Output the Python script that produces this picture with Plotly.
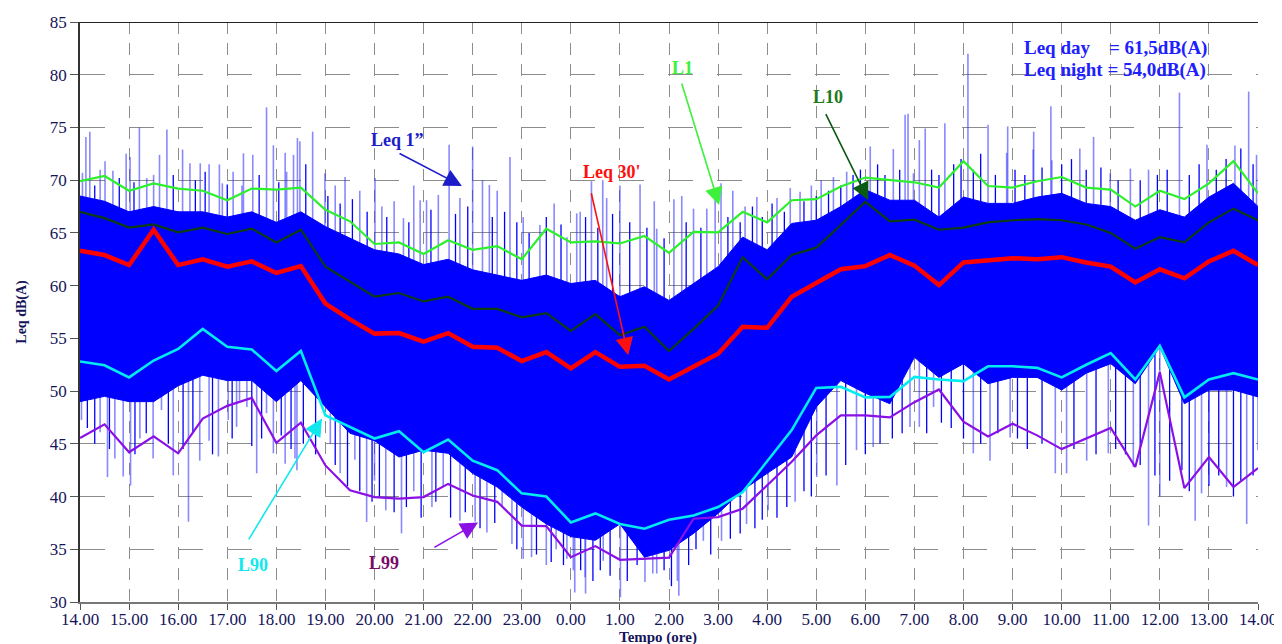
import plotly.graph_objects as go

# ---------------- data ----------------
# half-hour statistics, times as clock hours continuing past midnight (14 .. 38)
t_half = [14 + 0.5 * i for i in range(49)]

leq30 = [63.3, 62.9, 61.95, 65.3, 61.95, 62.5, 61.8, 62.3, 61.2, 61.85,
         58.3, 56.8, 55.45, 55.5, 54.7, 55.5, 54.2, 54.1, 52.85, 53.7, 52.15,
         53.7, 52.3, 52.4, 51.1, 52.3, 53.55, 56.1, 56.0, 58.95, 60.2, 61.55, 61.85, 62.9, 61.9,
         60.05, 62.2, 62.4, 62.6, 62.5, 62.7, 62.2, 61.8, 60.3, 61.55, 60.7, 62.3, 63.3, 61.95]

L1 = [69.9, 70.4, 69.0, 69.7, 69.2, 69.0, 68.1, 69.2, 69.1, 69.3,
      67.2, 66.1, 63.95, 64.1, 63.0, 64.3, 63.4, 63.75, 62.5, 65.4, 64.1,
      64.2, 64.0, 64.7, 63.1, 65.1, 65.05, 67.0, 66.0, 68.1, 68.2, 69.4, 70.25, 70.0, 69.8,
      69.3, 71.8, 69.45, 69.3, 69.9, 70.3, 69.3, 69.1, 67.5, 69.0, 68.2, 69.7, 71.8, 68.75]

L10 = [67.0, 66.4, 65.5, 65.8, 65.05, 65.5, 64.9, 65.4, 64.1, 65.3,
       61.8, 60.4, 58.95, 59.3, 58.5, 58.95, 57.8, 57.8, 57.0, 57.4, 55.7,
       57.3, 55.3, 56.1, 53.8, 55.9, 58.1, 62.7, 60.6, 62.9, 63.6, 65.75, 67.95, 66.1, 66.25,
       65.3, 65.5, 66.0, 66.2, 66.3, 66.2, 65.8, 65.0, 63.5, 64.6, 64.1, 66.0, 67.3, 66.2]

L90 = [52.8, 52.45, 51.3, 52.9, 54.0, 55.9, 54.2, 53.95, 51.9, 53.8,
       47.7, 46.6, 45.5, 46.2, 44.2, 45.4, 43.4, 42.5, 40.3, 40.0, 37.55,
       38.4, 37.4, 36.95, 37.8, 38.2, 39.0, 40.4, 43.3, 46.3, 50.3, 50.4, 49.4, 49.45, 51.35,
       51.1, 50.95, 52.35, 52.35, 52.2, 51.3, 52.5, 53.6, 51.1, 54.3, 49.4, 51.1, 51.7, 51.1]

L99 = [45.55, 46.85, 44.2, 45.7, 44.1, 47.4, 48.6, 49.35, 45.1, 47.0,
       42.95, 40.6, 39.95, 39.8, 39.95, 41.2, 40.1, 39.5, 37.25, 37.2, 34.25,
       35.3, 34.0, 34.1, 34.2, 37.9, 38.05, 38.85, 41.05, 43.3, 45.8, 47.7, 47.7, 47.5, 48.95,
       50.15, 47.1, 45.7, 46.9, 45.8, 44.5, 45.5, 46.5, 42.8, 51.8, 40.8, 43.75, 40.9, 42.7]

# Leq 1" : dense body of the trace (top / bottom of the solid blue mass)
leq1_top = [68.5, 68.0, 67.0, 67.5, 67.0, 67.0, 66.5, 67.0, 66.0, 67.0,
            65.6, 64.5, 63.4, 63.0, 62.0, 62.5, 61.5, 61.0, 60.5, 61.0, 60.2,
            60.5, 58.95, 59.9, 58.6, 60.2, 61.8, 64.6, 63.4, 65.9, 66.2, 67.5, 69.1, 68.1, 68.1,
            66.5, 68.4, 67.8, 67.8, 68.4, 68.75, 67.8, 67.5, 66.2, 67.2, 66.5, 68.4, 69.7, 67.5]
leq1_bottom = [49.0, 49.5, 49.0, 49.0, 50.5, 51.5, 51.0, 51.0, 49.0, 51.0,
               48.5, 46.0, 45.3, 43.75, 44.4, 44.1, 42.2, 40.9, 39.0, 37.4, 36.2,
               35.85, 37.4, 34.25, 34.9, 36.5, 38.4, 40.6, 42.2, 43.75, 48.5, 51.0, 49.8, 48.8, 53.2,
               51.3, 52.6, 50.7, 51.3, 51.3, 50.1, 51.7, 52.6, 50.7, 54.2, 48.8, 50.1, 50.1, 49.45]

# Leq 1" : tallest individual peaks (pale strokes)
peak_t = [14.05, 14.12, 14.2, 14.41, 14.51, 14.67, 14.94, 15.02, 15.21, 15.36, 15.5, 15.62, 15.77,
          16.09, 16.24, 16.45, 16.63, 16.84, 16.9, 17.12, 17.3, 17.33, 17.52, 17.8, 17.94, 18.18,
          18.21, 18.35, 18.43, 18.48, 18.74, 18.99, 19.2, 19.4, 19.7, 20.01, 20.15, 20.4, 20.59,
          20.8, 20.93, 21.06, 21.3, 21.52, 21.74, 22.0, 22.2, 22.34, 22.5, 22.76, 23.03, 23.37,
          23.66, 23.92, 24.12, 24.19, 24.42, 24.65, 24.73, 25.0, 25.41, 25.7, 25.75, 26.1, 26.26,
          26.5, 26.77, 26.94, 27.06, 27.3, 27.55, 27.79, 28.2, 28.47, 28.67, 28.9, 29.1, 29.35,
          29.62, 30.1, 30.57, 30.81, 30.87, 30.98, 31.1, 31.22, 31.62, 32.09, 32.5, 32.88, 32.9,
          33.42, 33.43, 33.78, 33.8, 34.37, 34.65, 34.99, 35.4, 35.77, 36.4, 36.96, 37.53, 37.81,
          37.97]
peak_v = [70.7, 74.1, 74.6, 71.0, 71.8, 70.9, 72.5, 72.2, 75.0, 70.2, 70.5, 72.4, 74.8,
          72.9, 71.6, 71.6, 71.5, 71.5, 69.7, 70.8, 69.5, 72.55, 72.4, 76.9, 73.3, 72.6,
          70.8, 72.4, 74.0, 73.7, 74.6, 70.65, 69.5, 70.3, 69.0, 70.2, 67.5, 68.0, 66.4,
          69.5, 68.1, 68.1, 68.6, 73.35, 68.3, 73.2, 70.0, 69.55, 69.0, 72.2, 66.5, 65.75,
          67.8, 64.6, 66.85, 67.0, 69.9, 70.0, 68.3, 69.5, 69.6, 68.0, 65.4, 68.2, 68.5,
          67.3, 67.3, 68.6, 69.7, 69.0, 67.5, 68.4, 68.3, 69.25, 68.9, 69.5, 70.0, 70.3,
          70.8, 73.2, 72.95, 76.2, 76.3, 70.65, 73.8, 74.9, 75.4, 82.0, 75.25, 72.6, 75.1,
          72.9, 74.6, 77.0, 71.9, 73.0, 74.1, 70.65, 71.1, 71.0, 78.3, 73.35, 73.3, 78.4,
          72.4]

# Leq 1" : deepest individual dips (pale strokes)
dip_t = [14.03, 14.41, 14.56, 14.71, 14.88, 15.03, 15.22, 15.49, 15.66, 15.9, 16.21, 16.44,
         16.63, 16.82, 17.02, 17.19, 17.25, 17.4, 17.6, 17.8, 17.94, 18.0, 18.18, 18.38, 18.42,
         19.1, 19.3, 19.6, 19.84, 20.0, 20.23, 20.55, 20.8, 21.17, 21.4, 21.74, 22.05, 22.29,
         22.6, 22.8, 23.03, 23.2, 23.5, 23.7, 23.92, 24.05, 24.08, 24.29, 24.3, 24.66, 25.01,
         25.51, 25.67, 25.75, 26.17, 26.2, 26.7, 27.07, 27.58, 28.02, 28.57, 29.01, 29.42,
         29.82, 30.16, 30.91, 31.1, 31.39, 32.2, 32.54, 32.95, 33.87, 34.1, 34.51, 34.95,
         35.46, 35.77, 36.0, 36.72, 36.85, 37.36, 37.77, 38.0]
dip_v = [47.25, 46.1, 41.85, 43.6, 41.9, 41.05, 45.5, 43.6, 48.2, 42.0, 37.6, 43.4,
         45.3, 43.8, 47.25, 46.6, 49.1, 48.5, 42.2, 47.9, 44.1, 49.1, 43.1, 43.6, 42.5,
         45.0, 42.2, 43.5, 37.6, 41.5, 38.7, 36.5, 40.5, 39.0, 41.0, 37.7, 37.6, 36.6,
         39.0, 35.5, 34.1, 34.25, 33.5, 35.0, 34.1, 33.0, 30.9, 32.35, 30.8, 33.9, 30.45,
         31.9, 32.7, 32.7, 32.0, 30.6, 35.8, 35.8, 37.4, 38.7, 39.5, 41.85, 41.05,
         44.4, 44.7, 46.6, 46.6, 48.5, 44.1, 43.4, 45.6, 42.2, 42.2, 43.4, 44.1,
         42.8, 37.25, 40.0, 37.7, 40.3, 40.9, 37.4, 44.4]

# Leq 1" : denser, shorter strokes (solid blue) around the body edges
peak2_t = [14.3, 14.8, 15.1, 15.9, 16.35, 16.55, 17.0, 17.65, 18.05, 18.6,
           19.05, 19.3, 19.55, 19.85, 20.25, 20.7, 21.15, 21.65, 21.9, 22.4, 22.65, 22.9, 23.15,
           23.5, 23.8, 24.3, 24.55, 24.85, 25.2, 25.55, 25.9, 26.35, 26.65, 27.2, 27.45, 27.7,
           27.9, 28.1, 28.35, 28.75, 29.0, 29.25, 29.5, 29.75, 29.9, 30.25, 30.4, 30.7,
           31.35, 31.5, 31.8, 31.95, 32.2, 32.35, 32.65, 33.05, 33.25, 33.6, 34.0, 34.2, 34.5,
           34.8, 35.15, 35.6, 35.95, 36.15, 36.6, 36.8, 37.15, 37.35, 37.65, 37.9]
peak2_v = [69.5, 70.2, 69.8, 70.5, 70.0, 70.8, 69.6, 70.5, 69.8, 71.5,
           68.5, 67.8, 68.2, 67.0, 66.5, 66.0, 67.2, 66.8, 67.5, 66.5, 67.0, 66.0, 65.0,
           66.5, 65.8, 66.5, 65.5, 66.8, 66.0, 65.5, 64.5, 66.0, 65.5, 66.5, 66.0, 67.5,
           66.5, 67.8, 67.0, 68.0, 68.5, 69.0, 69.5, 70.5, 71.0, 71.5, 70.5, 71.0,
           71.0, 70.5, 71.5, 72.0, 71.0, 72.5, 70.5, 71.0, 70.5, 71.2, 71.5, 72.0, 71.0,
           71.2, 70.0, 70.0, 70.5, 71.0, 70.5, 71.5, 71.0, 72.0, 73.0, 71.5]
dip2_t = [14.15, 14.3, 14.6, 15.12, 15.35, 15.8, 16.1, 16.3, 16.7, 17.1, 17.5, 17.7, 18.1,
          18.3, 18.55, 18.8, 19.2, 19.45, 19.7, 19.95, 20.1, 20.4, 20.65, 20.95, 21.25, 21.55,
          21.85, 22.15, 22.45, 22.9, 23.3, 23.6, 23.85, 24.2, 24.45, 24.6, 24.8, 25.15, 25.35,
          25.9, 26.05, 26.4, 26.55, 26.85, 27.25, 27.45, 27.75, 27.9, 28.2, 28.4, 28.75, 28.9,
          29.2, 29.6, 30.0, 30.3, 30.55, 30.75, 31.25, 31.55, 31.75, 32.0, 32.35, 32.7, 33.1,
          33.3, 33.6, 34.25, 34.7, 35.1, 35.3, 35.6, 35.9, 36.2, 36.45, 36.6, 37.0, 37.2, 37.5,
          37.65, 37.9]
dip2_v = [46.5, 45.0, 44.5, 44.0, 46.0, 45.0, 44.5, 46.0, 44.0, 45.5, 44.8, 45.5, 45.8,
          44.5, 45.0, 44.0, 43.0, 41.0, 40.5, 39.5, 40.0, 38.5, 39.0, 38.0, 39.5, 38.0,
          38.5, 37.0, 37.5, 35.0, 34.5, 33.8, 33.5, 33.0, 32.0, 33.0, 32.5, 32.0, 33.5,
          33.0, 31.5, 33.5, 35.0, 34.5, 36.0, 36.5, 37.0, 37.8, 38.0, 39.0, 40.5, 40.0,
          42.0, 43.0, 44.0, 45.0, 45.5, 46.0, 46.0, 47.0, 46.5, 45.5, 45.0, 46.0, 45.5,
          44.5, 45.0, 44.5, 44.0, 44.5, 44.0, 43.0, 42.0, 41.5, 42.5, 40.5, 41.0, 42.0, 40.0,
          41.5, 42.0]

tick_vals = list(range(14, 39))
tick_text = [f"{h % 24}.00" for h in tick_vals]

# ---------------- figure ----------------
SERIF = "Liberation Serif, Times New Roman, serif"
NAVY = "#14145a"


def spike_segments(ts, vs):
    xs, ys = [], []
    for t, v in zip(ts, vs):
        base = leq30[int(round((t - 14) * 2))]
        xs += [t, t, None]
        ys += [base, v, None]
    return xs, ys


fig = go.Figure()

for ts, vs, col, w in [(peak_t, peak_v, "rgba(40,40,255,0.55)", 1.6),
                       (dip_t, dip_v, "rgba(40,40,255,0.55)", 1.6),
                       (peak2_t, peak2_v, "#0000ff", 1.3),
                       (dip2_t, dip2_v, "#0000ff", 1.3)]:
    sx, sy = spike_segments(ts, vs)
    fig.add_trace(go.Scatter(x=sx, y=sy, mode="lines", line=dict(color=col, width=w),
                             hoverinfo="skip", showlegend=False))

# dense body of Leq 1"
fig.add_trace(go.Scatter(x=t_half, y=leq1_bottom, mode="lines", line=dict(color="#0000ff", width=1),
                         showlegend=False, hoverinfo="skip"))
fig.add_trace(go.Scatter(x=t_half, y=leq1_top, mode="lines", line=dict(color="#0000ff", width=1),
                         fill="tonexty", fillcolor="#0000ff", showlegend=False, name='Leq 1"'))

fig.add_trace(go.Scatter(x=t_half, y=L99, mode="lines", line=dict(color="#8a10e6", width=2.2), name="L99"))
fig.add_trace(go.Scatter(x=t_half, y=L90, mode="lines", line=dict(color="#00ecf0", width=2.6), name="L90"))
fig.add_trace(go.Scatter(x=t_half, y=L10, mode="lines", line=dict(color="#0b3d12", width=2.2), name="L10"))
fig.add_trace(go.Scatter(x=t_half, y=L1, mode="lines", line=dict(color="#2cf02c", width=2.2), name="L1"))
fig.add_trace(go.Scatter(x=t_half, y=leq30, mode="lines", line=dict(color="#ff0000", width=4.5), name="Leq 30'"))


def label(text, x, y, color, size=18):
    fig.add_annotation(x=x, y=y, xref="x", yref="y", text=f"<b>{text}</b>", showarrow=False,
                       font=dict(family=SERIF, size=size, color=color))


def arrow(x0, y0, x1, y1, color):
    fig.add_annotation(x=x1, y=y1, ax=x0, ay=y0, xref="x", yref="y", axref="x", ayref="y",
                       text="", showarrow=True, arrowhead=2, arrowsize=2.2, arrowwidth=1.6,
                       arrowcolor=color)


label("Leq 1\u201d", 20.46, 73.8, "#1c1cc8")
arrow(20.48, 72.6, 21.78, 69.45, "#1c1cc8")
label("Leq 30'", 24.84, 70.8, "#ff1010")
arrow(24.41, 68.9, 25.17, 53.4, "#ff1010")
label("L1", 26.27, 80.66, "#3cf03c")
arrow(26.25, 79.3, 27.02, 67.65, "#3cf03c")
label("L10", 29.24, 77.9, "#1f7a1f")
arrow(29.18, 76.4, 30.06, 68.1, "#0b5a14")
label("L90", 17.52, 33.5, "#10e8ee")
arrow(17.42, 35.8, 18.93, 47.4, "#10e8ee")
label("L99", 20.2, 33.7, "#7a0a6a")
arrow(21.19, 35.1, 22.11, 37.55, "#8a10e6")

fig.add_annotation(x=33.19, y=82.56, xref="x", yref="y", xanchor="left", showarrow=False,
                   text="<b>Leq day\u00a0\u00a0\u00a0\u00a0= 61,5dB(A)</b>",
                   font=dict(family=SERIF, size=19, color="#2020ff"))
fig.add_annotation(x=33.19, y=80.47, xref="x", yref="y", xanchor="left", showarrow=False,
                   text="<b>Leq night = 54,0dB(A)</b>",
                   font=dict(family=SERIF, size=19, color="#2020ff"))

# x-axis title placed just under the tick labels
fig.add_annotation(x=0.4907, y=-0.061, xref="paper", yref="paper", showarrow=False,
                   xanchor="center", yanchor="middle", text="<b>Tempo (ore)</b>",
                   font=dict(family=SERIF, size=15, color=NAVY))

# top border
fig.add_shape(type="line", xref="paper", yref="y", x0=0, x1=1, y0=85, y1=85,
              line=dict(color="#222222", width=2))

# the page adds an 8px body margin, so the figure is sized/offset to land the plot
# area where the reference has it
fig.update_layout(
    width=1272, height=636,
    margin=dict(l=72, r=22, t=14, b=42),
    paper_bgcolor="white", plot_bgcolor="white",
    showlegend=False,
    font=dict(family=SERIF, color=NAVY),
)
fig.update_xaxes(range=[14, 38], tickvals=tick_vals, ticktext=tick_text, automargin=False,
                 showgrid=True, gridcolor="#8c8c8c", gridwidth=1.2, griddash="12px,9px",
                 showline=True, linecolor="#777777", linewidth=1.5,
                 ticks="outside", ticklen=6, tickcolor="#555555",
                 ticklabeloverflow="allow", ticklabelstandoff=-5,
                 tickfont=dict(family=SERIF, size=17, color=NAVY),
                 zeroline=False)
fig.update_yaxes(range=[30, 85], dtick=5, tick0=30, automargin=False,
                 showgrid=True, gridcolor="#8c8c8c", gridwidth=1.2, griddash="25px,24px",
                 showline=True, linecolor="#333333", linewidth=1.5,
                 ticks="outside", ticklen=8, tickcolor="#555555",
                 tickfont=dict(family=SERIF, size=17, color=NAVY),
                 title=dict(text="<b>Leq dB(A)</b>", font=dict(family=SERIF, size=14, color=NAVY),
                            standoff=20),
                 zeroline=False)

fig.write_html("out.html")
